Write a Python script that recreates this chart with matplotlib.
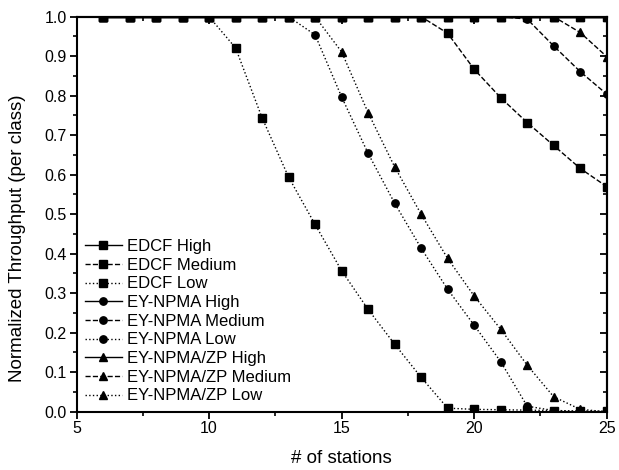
import numpy as np
import matplotlib
matplotlib.use('Agg')
import matplotlib.pyplot as plt
from matplotlib.ticker import MultipleLocator

plt.rcParams['font.family'] = ['Liberation Sans', 'DejaVu Sans']

stations = list(range(6, 26))

edcf_high = [1.0] * 20
edcf_med = [1.0] * 13 + [0.958, 0.867, 0.795, 0.732, 0.674, 0.616, 0.570]
edcf_low = [1.0] * 5 + [0.921, 0.744, 0.594, 0.474, 0.357, 0.259, 0.171, 0.087,
                        0.009, 0.006, 0.005, 0.004, 0.003, 0.002, 0.001]

ey_high = [1.0] * 20
ey_med = [1.0] * 16 + [0.994, 0.926, 0.861, 0.804]
ey_low = [1.0] * 8 + [0.954, 0.797, 0.654, 0.528, 0.414, 0.310, 0.219, 0.127,
                      0.014, 0.003, 0.0, 0.0]

zp_high = [1.0] * 20
zp_med = [1.0] * 18 + [0.960, 0.899]
zp_low = [1.0] * 9 + [0.911, 0.757, 0.620, 0.500, 0.388, 0.293, 0.209, 0.118,
                      0.038, 0.006, 0.0]

series = [
    ('EDCF High', edcf_high, 's', '-'),
    ('EDCF Medium', edcf_med, 's', '--'),
    ('EDCF Low', edcf_low, 's', ':'),
    ('EY-NPMA High', ey_high, 'o', '-'),
    ('EY-NPMA Medium', ey_med, 'o', '--'),
    ('EY-NPMA Low', ey_low, 'o', ':'),
    ('EY-NPMA/ZP High', zp_high, '^', '-'),
    ('EY-NPMA/ZP Medium', zp_med, '^', '--'),
    ('EY-NPMA/ZP Low', zp_low, '^', ':'),
]

fig = plt.figure(figsize=(6.19, 4.70), dpi=100)
ax = fig.add_axes([0.1236, 0.124, 0.8565, 0.8405])

for name, vals, mk, ls in series:
    ms = 6.0 if mk == '^' else 5.3
    ax.plot(stations, vals, color='black', linestyle=ls, linewidth=1.0,
            marker=mk, markersize=ms, label=name, clip_on=True)

ax.set_xlim(5, 25)
ax.set_ylim(0, 1.0)
ax.xaxis.set_major_locator(MultipleLocator(5))
ax.xaxis.set_minor_locator(MultipleLocator(2.5))
ax.yaxis.set_major_locator(MultipleLocator(0.1))
ax.yaxis.set_minor_locator(MultipleLocator(0.05))
ax.yaxis.set_major_formatter(matplotlib.ticker.FormatStrFormatter('%.1f'))

ax.tick_params(which='major', direction='out', length=5, width=1.3,
               labelsize=11.5, pad=2)
ax.tick_params(which='minor', direction='out', length=3, width=1.2)
for s in ax.spines.values():
    s.set_linewidth(1.5)

# spiegel-ticks innen an rechts/oben
for side in ('right', 'top'):
    if side == 'right':
        sec = ax.secondary_yaxis('right')
        sec.yaxis.set_major_locator(MultipleLocator(0.1))
        sec.yaxis.set_minor_locator(MultipleLocator(0.05))
    else:
        sec = ax.secondary_xaxis('top')
        sec.xaxis.set_major_locator(MultipleLocator(5))
        sec.xaxis.set_minor_locator(MultipleLocator(2.5))
    sec.tick_params(which='major', direction='in', length=5, width=1.3,
                    labelright=False, labeltop=False)
    sec.tick_params(which='minor', direction='in', length=3, width=1.2)
    sec.spines[side].set_linewidth(1.5)

ax.set_xlabel('# of stations', fontsize=13.5, labelpad=10)
ax.set_ylabel('Normalized Throughput (per class)', fontsize=13.5)
ax.yaxis.set_label_coords(-0.095, 0.44)

ax.legend(loc='lower left', bbox_to_anchor=(0.0, 0.0), frameon=False,
          fontsize=12, handlelength=2.2, handletextpad=0.3,
          labelspacing=0.22, borderpad=0.3, borderaxespad=0.2)

fig.savefig('out.png', dpi=100)
